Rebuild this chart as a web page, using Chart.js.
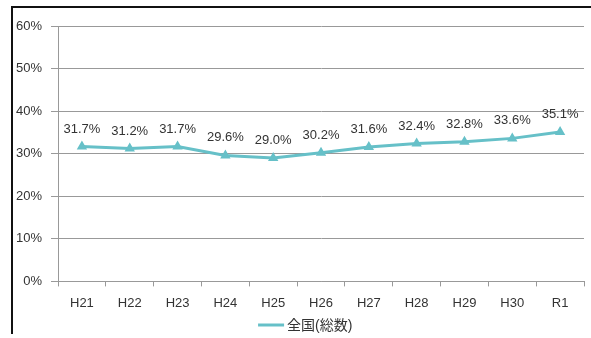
<!DOCTYPE html>
<html>
<head>
<meta charset="utf-8">
<script src="https://cdn.jsdelivr.net/npm/chart.js@4"></script>
<style>
  html, body { margin: 0; padding: 0; background: #fff; }
  #wrap { position: relative; width: 591px; height: 338px; }
  #frame { position: absolute; left: 11px; top: 6px; right: 0; bottom: 4px;
           border-top: 2px solid #111; border-left: 2px solid #111; }
  canvas { position: absolute; left: 0; top: 0; }
</style>
</head>
<body>
<div id="wrap">
  <div id="frame"></div>
  <canvas id="grafico" width="591" height="338"></canvas>
</div>
<script>
const nendo = ["H21", "H22", "H23", "H24", "H25", "H26", "H27", "H28", "H29", "H30", "R1"];
const zenkoku = [31.7, 31.2, 31.7, 29.6, 29.0, 30.2, 31.6, 32.4, 32.8, 33.6, 35.1];
const serieNombre = "全国(総数)";

const fuente = "'Liberation Sans', 'Noto Sans CJK JP', sans-serif";
const colorLinea = "#66c0c8";

// etiquetas sobre cada punto + leyenda abajo
const etiquetas = {
  id: "etiquetas",
  afterDatasetsDraw(chart) {
    const ctx = chart.ctx;
    const meta = chart.getDatasetMeta(0);
    ctx.save();
    ctx.font = "13px " + fuente;
    ctx.fillStyle = "#333";
    ctx.textAlign = "center";
    ctx.textBaseline = "bottom";
    meta.data.forEach((p, i) => {
      ctx.fillText(zenkoku[i].toFixed(1) + "%", p.x, p.y - 11);
    });

    // leyenda
    const ds = chart.data.datasets[0];
    ctx.font = "14px " + fuente;
    const ancho = ctx.measureText(ds.label).width;
    const total = 26 + 3 + ancho;
    const x0 = chart.chartArea.left + (chart.chartArea.right - chart.chartArea.left) * 0.47 - total / 2;
    const y0 = 325;
    ctx.strokeStyle = ds.borderColor;
    ctx.lineWidth = 3;
    ctx.beginPath();
    ctx.moveTo(x0, y0);
    ctx.lineTo(x0 + 26, y0);
    ctx.stroke();
    ctx.textAlign = "left";
    ctx.textBaseline = "middle";
    ctx.fillText(ds.label, x0 + 29, y0 + 1);
    ctx.restore();
  }
};

const ctx = document.getElementById("grafico").getContext("2d");
new Chart(ctx, {
  type: "line",
  data: {
    labels: nendo,
    datasets: [{
      label: serieNombre,
      data: zenkoku,
      borderColor: colorLinea,
      backgroundColor: colorLinea,
      borderWidth: 3,
      pointStyle: "triangle",
      pointRadius: 3,
      tension: 0
    }]
  },
  options: {
    responsive: false,
    animation: false,
    layout: { padding: { left: 7, top: 26, right: 4, bottom: 18 } },
    scales: {
      x: {
        offset: true,
        grid: { offset: true, drawOnChartArea: false, tickLength: 5, color: "#999" },
        border: { color: "#999" },
        ticks: { color: "#333", font: { size: 13, family: fuente }, padding: 9 }
      },
      y: {
        min: 0,
        max: 60,
        grid: { color: "#999", tickLength: 7 },
        border: { color: "#999" },
        ticks: {
          stepSize: 10,
          color: "#333",
          font: { size: 13, family: fuente },
          padding: 9,
          callback: v => v + "%"
        }
      }
    },
    plugins: {
      tooltip: { enabled: false },
      legend: { display: false }
    }
  },
  plugins: [etiquetas]
});
</script>
</body>
</html>
